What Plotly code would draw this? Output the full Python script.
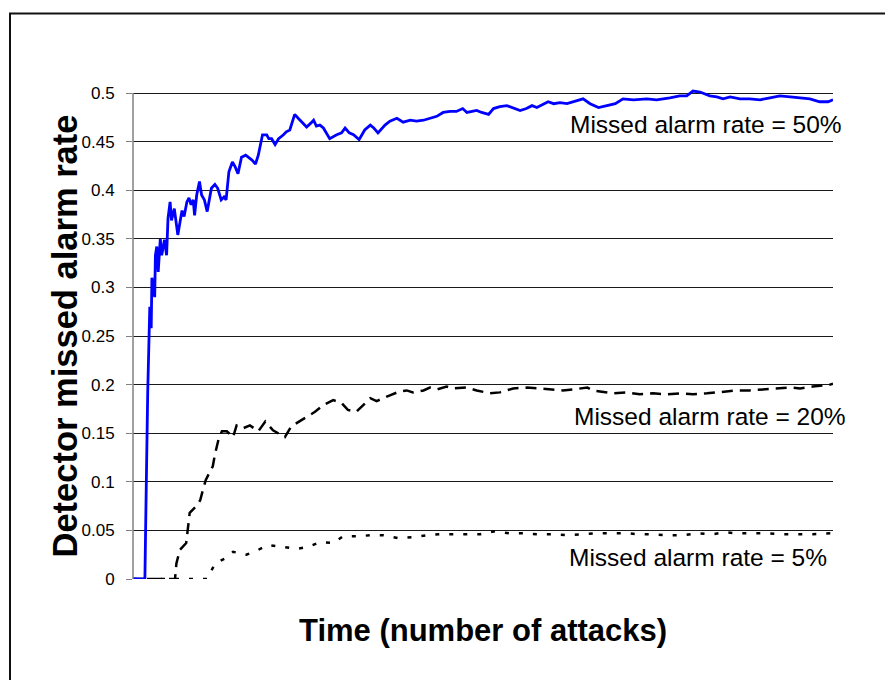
import plotly.graph_objects as go

# ---- data (x = number of attacks, arbitrary 0..1000 scale) ----
x_50 = [0, 17, 18, 20, 21, 23, 24, 26, 27, 31, 32, 34, 36, 39, 41, 45, 48, 50, 53, 55, 59, 64, 68, 70, 73, 77,
        80, 83, 86, 88, 91, 95, 98, 102, 106, 109, 112, 117, 121, 126, 130, 133, 137, 142, 146, 150, 155, 161,
        165, 170, 175, 179, 185, 191, 194, 198, 203, 208, 215, 219, 224, 231, 236, 241, 248, 254, 258, 262, 267,
        272, 281, 291, 298, 303, 309, 315, 323, 331, 339, 344, 350, 360, 367, 377, 386, 396, 405, 415, 424, 434,
        443, 453, 462, 471, 477, 486, 491, 498, 508, 515, 524, 534, 543, 553, 562, 570, 577, 584, 593, 601, 610,
        620, 629, 639, 643, 653, 665, 677, 689, 700, 715, 734, 748, 767, 781, 791, 800, 810, 824, 834, 843, 853,
        867, 881, 896, 910, 924, 939, 953, 967, 981, 993, 1000]
y_50 = [0, 0, 0.05, 0.186, 0.191, 0.251, 0.280, 0.258, 0.310, 0.290, 0.333, 0.342, 0.316, 0.350, 0.333, 0.349,
        0.333, 0.371, 0.388, 0.369, 0.381, 0.354, 0.371, 0.379, 0.373, 0.388, 0.392, 0.385, 0.390, 0.374, 0.395,
        0.409, 0.395, 0.390, 0.378, 0.390, 0.402, 0.406, 0.402, 0.390, 0.393, 0.390, 0.419, 0.429, 0.424, 0.417,
        0.434, 0.436, 0.434, 0.431, 0.427, 0.436, 0.457, 0.457, 0.453, 0.453, 0.447, 0.453, 0.457, 0.460, 0.462,
        0.478, 0.474, 0.470, 0.465, 0.469, 0.472, 0.466, 0.467, 0.464, 0.453, 0.457, 0.459, 0.464, 0.459, 0.457,
        0.452, 0.462, 0.467, 0.464, 0.459, 0.467, 0.471, 0.474, 0.470, 0.472, 0.471, 0.472, 0.474, 0.476, 0.480,
        0.481, 0.481, 0.484, 0.480, 0.481, 0.482, 0.480, 0.478, 0.484, 0.486, 0.487, 0.485, 0.482, 0.484, 0.487,
        0.485, 0.488, 0.491, 0.489, 0.490, 0.489, 0.491, 0.493, 0.494, 0.489, 0.485, 0.487, 0.489, 0.494, 0.493,
        0.494, 0.493, 0.495, 0.497, 0.497, 0.502, 0.501, 0.497, 0.496, 0.494, 0.496, 0.494, 0.494, 0.493, 0.495,
        0.497, 0.496, 0.495, 0.494, 0.491, 0.491, 0.493]

x_20 = [0, 60, 62, 67, 76, 79, 81, 89, 96, 100, 104, 109, 114, 117, 122, 127, 134, 143, 148, 157, 167, 179, 189,
        200, 217, 226, 238, 248, 260, 272, 286, 298, 307, 319, 329, 339, 348, 357, 367, 381, 391, 400, 415, 424,
        434, 448, 457, 477, 491, 510, 524, 543, 563, 581, 600, 614, 629, 649, 657, 686, 706, 724, 743, 763, 781,
        800, 820, 839, 863, 881, 900, 920, 939, 953, 971, 996, 1000]
y_20 = [0, 0, 0.016, 0.030, 0.037, 0.056, 0.068, 0.074, 0.081, 0.092, 0.102, 0.109, 0.116, 0.128, 0.143, 0.152,
        0.152, 0.146, 0.158, 0.155, 0.158, 0.152, 0.162, 0.153, 0.146, 0.157, 0.162, 0.167, 0.172, 0.179, 0.184,
        0.181, 0.174, 0.172, 0.179, 0.186, 0.183, 0.186, 0.189, 0.193, 0.194, 0.192, 0.194, 0.197, 0.195, 0.198,
        0.196, 0.197, 0.194, 0.191, 0.192, 0.196, 0.197, 0.196, 0.195, 0.194, 0.195, 0.197, 0.194, 0.191, 0.192,
        0.190, 0.191, 0.190, 0.191, 0.190, 0.191, 0.192, 0.194, 0.194, 0.195, 0.196, 0.197, 0.196, 0.198, 0.200,
        0.201]

x_5 = [0, 106, 107, 117, 131, 143, 162, 179, 193, 212, 234, 250, 267, 286, 300, 322, 339, 358, 379, 400, 419, 438,
       457, 477, 496, 517, 539, 559, 580, 600, 620, 641, 663, 684, 706, 724, 743, 764, 786, 806, 827, 846, 864,
       886, 907, 929, 950, 971, 996, 1000]
y_5 = [0, 0, 0.001, 0.016, 0.021, 0.028, 0.025, 0.030, 0.035, 0.033, 0.031, 0.033, 0.038, 0.037, 0.044, 0.044,
       0.045, 0.045, 0.042, 0.043, 0.045, 0.046, 0.046, 0.046, 0.046, 0.049, 0.047, 0.047, 0.046, 0.046, 0.045,
       0.046, 0.047, 0.047, 0.047, 0.046, 0.046, 0.045, 0.045, 0.047, 0.046, 0.048, 0.047, 0.047, 0.047, 0.046,
       0.046, 0.046, 0.047, 0.047]

tick_vals = [0, 0.05, 0.1, 0.15, 0.2, 0.25, 0.3, 0.35, 0.4, 0.45, 0.5]
tick_text = ["0", "0.05", "0.1", "0.15", "0.2", "0.25", "0.3", "0.35", "0.4", "0.45", "0.5"]

label_50 = "Missed alarm rate = 50%"
label_20 = "Missed alarm rate = 20%"
label_5 = "Missed alarm rate = 5%"
x_title = "Time (number of attacks)"
y_title = "Detector missed alarm rate"

FONT = "Liberation Sans, Arial, sans-serif"

# ---- layout geometry (page pixels; page body has an 8px margin) ----
OFF = 8
W, H = 893 - OFF, 680 - OFF
L, R = 133 - OFF, 833 - OFF
T, B = 87 - OFF, 579 - OFF
pw, ph = R - L, B - T
def px(xp):
    return (xp - OFF - L) / pw
def py(yp):
    return (B - (yp - OFF)) / ph

fig = go.Figure()
fig.add_trace(go.Scatter(x=x_5, y=y_5, mode="lines",
                         line=dict(color="black", width=2.5, dash="4px,10px"), hoverinfo="skip"))
fig.add_trace(go.Scatter(x=x_20, y=y_20, mode="lines",
                         line=dict(color="black", width=2.5, dash="11px,7px"), hoverinfo="skip"))
fig.add_trace(go.Scatter(x=x_50, y=y_50, mode="lines",
                         line=dict(color="#0000FF", width=2.8), hoverinfo="skip"))

fig.update_layout(
    width=W, height=H,
    margin=dict(l=L, r=W - R, t=T, b=H - B, pad=0),
    paper_bgcolor="white", plot_bgcolor="white",
    showlegend=False,
    font=dict(family=FONT, color="black"),
    xaxis=dict(range=[0, 1000], showticklabels=False, ticks="", showgrid=False,
               zeroline=False, showline=False),
    yaxis=dict(range=[0, 0.5 * (579 - 87) / (579 - 93)], tickmode="array", tickvals=tick_vals,
               ticktext=tick_text,
               ticks="outside", ticklen=6, tickcolor="#808080", tickwidth=1,
               tickfont=dict(family=FONT, size=17, color="black"), ticklabelstandoff=8,
               showgrid=True, gridcolor="#1a1a1a", gridwidth=1,
               zeroline=False, showline=False),
)

shapes = [
    # y axis line
    dict(type="line", xref="paper", yref="y", x0=0, x1=0, y0=0, y1=0.5,
         line=dict(color="#808080", width=1.5)),
    # outer frame: left and top edges (right and bottom lie outside the image)
    dict(type="line", xref="paper", yref="paper", x0=px(10), x1=px(10), y0=py(700), y1=py(13.5),
         line=dict(color="#111111", width=2), layer="above"),
    dict(type="line", xref="paper", yref="paper", x0=px(9), x1=px(910), y0=py(13.5), y1=py(13.5),
         line=dict(color="#111111", width=2), layer="above"),
]
fig.update_layout(shapes=shapes)

ann = [
    dict(text=label_50, x=px(844), y=py(124.5), xanchor="right", yanchor="middle",
         font=dict(family=FONT, size=24.5, color="black")),
    dict(text=label_20, x=px(848), y=py(417), xanchor="right", yanchor="middle",
         font=dict(family=FONT, size=24.5, color="black")),
    dict(text=label_5, x=px(829), y=py(557), xanchor="right", yanchor="middle",
         font=dict(family=FONT, size=24.5, color="black")),
    dict(text="<b>" + x_title + "</b>", x=px(483), y=py(630), xanchor="center", yanchor="middle",
         font=dict(family=FONT, size=31, color="black")),
    dict(text="<b>" + y_title + "</b>", x=px(64), y=py(336.5), xanchor="center", yanchor="middle",
         textangle=-90, font=dict(family=FONT, size=34.5, color="black")),
]
for a in ann:
    a.update(xref="paper", yref="paper", showarrow=False)
fig.update_layout(annotations=ann)

fig.write_html("out.html")
